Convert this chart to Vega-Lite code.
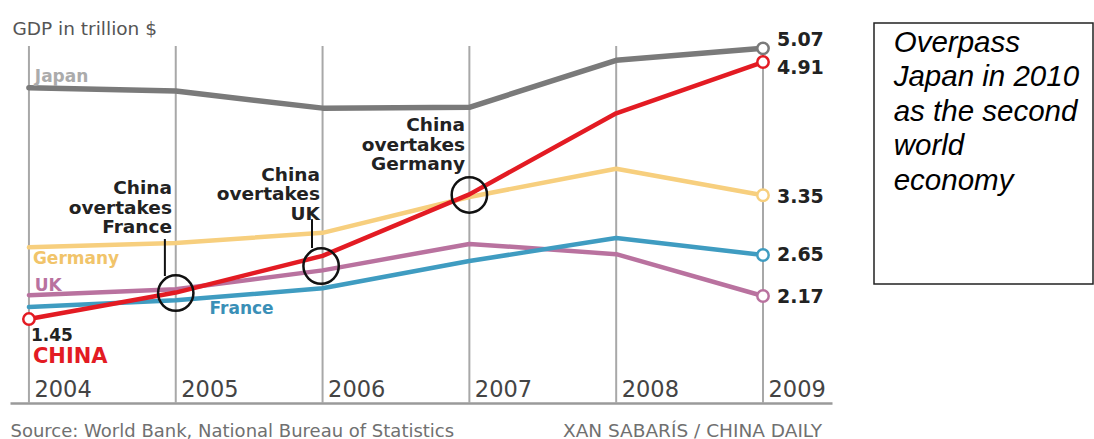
{
  "$schema": "https://vega.github.io/schema/vega-lite/v6.json",
  "padding": {"left": 10, "top": 19, "right": 0, "bottom": 0},
  "background": "white",
  "spacing": 41,
  "config": {"view": {"stroke": null}, "font": "DejaVu Sans"},
  "datasets": {
    "gdp": [
      {"country": "Japan", "year": 2004, "gdp": 4.61},
      {"country": "Japan", "year": 2005, "gdp": 4.57},
      {"country": "Japan", "year": 2006, "gdp": 4.37},
      {"country": "Japan", "year": 2007, "gdp": 4.38},
      {"country": "Japan", "year": 2008, "gdp": 4.93},
      {"country": "Japan", "year": 2009, "gdp": 5.07},
      {"country": "Germany", "year": 2004, "gdp": 2.74},
      {"country": "Germany", "year": 2005, "gdp": 2.79},
      {"country": "Germany", "year": 2006, "gdp": 2.91},
      {"country": "Germany", "year": 2007, "gdp": 3.33},
      {"country": "Germany", "year": 2008, "gdp": 3.66},
      {"country": "Germany", "year": 2009, "gdp": 3.35},
      {"country": "UK", "year": 2004, "gdp": 2.18},
      {"country": "UK", "year": 2005, "gdp": 2.25},
      {"country": "UK", "year": 2006, "gdp": 2.47},
      {"country": "UK", "year": 2007, "gdp": 2.78},
      {"country": "UK", "year": 2008, "gdp": 2.66},
      {"country": "UK", "year": 2009, "gdp": 2.17},
      {"country": "France", "year": 2004, "gdp": 2.04},
      {"country": "France", "year": 2005, "gdp": 2.12},
      {"country": "France", "year": 2006, "gdp": 2.26},
      {"country": "France", "year": 2007, "gdp": 2.58},
      {"country": "France", "year": 2008, "gdp": 2.85},
      {"country": "France", "year": 2009, "gdp": 2.65},
      {"country": "China", "year": 2004, "gdp": 1.9},
      {"country": "China", "year": 2005, "gdp": 2.21},
      {"country": "China", "year": 2006, "gdp": 2.64},
      {"country": "China", "year": 2007, "gdp": 3.36},
      {"country": "China", "year": 2008, "gdp": 4.31},
      {"country": "China", "year": 2009, "gdp": 4.91}
    ],
    "labels": [
      {"text": "Japan", "grp": "series", "year": 2004.04, "gdp": 4.676},
      {"text": "Germany", "grp": "series", "year": 2004.027, "gdp": 2.545},
      {"text": "UK", "grp": "series", "year": 2004.04, "gdp": 2.229},
      {"text": "France", "grp": "series", "year": 2005.23, "gdp": 1.959},
      {"text": "1.45", "grp": "series", "year": 2004.014, "gdp": 1.643},
      {"text": "CHINA", "grp": "series", "year": 2004.027, "gdp": 1.385},
      {"text": "5.07", "grp": "end", "year": 2009.095, "gdp": 5.097},
      {"text": "4.91", "grp": "end", "year": 2009.095, "gdp": 4.769},
      {"text": "3.35", "grp": "end", "year": 2009.095, "gdp": 3.259},
      {"text": "2.65", "grp": "end", "year": 2009.095, "gdp": 2.58},
      {"text": "2.17", "grp": "end", "year": 2009.095, "gdp": 2.088},
      {"text": "China\novertakes\nFrance", "grp": "note", "year": 2004.974, "gdp": 3.364},
      {"text": "China\novertakes\nUK", "grp": "note", "year": 2005.982, "gdp": 3.517},
      {"text": "China\novertakes\nGermany", "grp": "note", "year": 2006.97, "gdp": 4.102}
    ],
    "circles": [
      {"event": "France", "year": 2005.0, "gdp": 2.205},
      {"event": "UK", "year": 2005.99, "gdp": 2.521},
      {"event": "Germany", "year": 2007.0, "gdp": 3.353}
    ],
    "leaders": [
      {"event": "France", "year": 2004.926, "gdp": 2.837, "gdp2": 2.404},
      {"event": "UK", "year": 2005.928, "gdp": 3.07, "gdp2": 2.732}
    ]
  },
  "hconcat": [
    {
      "width": 822,
      "height": 380,
      "title": {"text": "XAN SABARÍS / CHINA DAILY", "orient": "bottom", "anchor": "end", "dx": -10, "offset": -18, "font": "DejaVu Sans", "fontSize": 18.5, "fontWeight": "normal", "color": "#707070"},
      "resolve": {"scale": {"color": "independent"}},
      "layer": [
        {
          "data": {"name": "gdp"},
          "transform": [{"filter": "datum.country === 'Japan'"}],
          "mark": {"type": "rule", "stroke": "#a8a8a8", "strokeWidth": 2},
          "encoding": {
            "x": {"field": "year", "type": "quantitative",
              "scale": {"domain": [2003.871, 2009.47], "nice": false, "zero": false},
              "axis": {"values": [2004, 2005, 2006, 2007, 2008, 2009], "format": "d",
                "title": "Source: World Bank, National Bureau of Statistics", "titleAnchor": "start", "titleAlign": "left", "titlePadding": 19,
                "titleFont": "DejaVu Sans", "titleFontSize": 18, "titleFontWeight": "normal", "titleColor": "#707070",
                "grid": false, "ticks": false, "tickSize": 0,
                "domain": true, "domainColor": "#9a9a9a", "domainWidth": 2.5,
                "labelAlign": "left", "labelBaseline": "alphabetic", "labelPadding": -7, "labelOffset": 5,
                "labelFontSize": 22.5, "labelColor": "#444444", "labelFont": "DejaVu Sans", "labelFlush": false, "labelOverlap": false}},
            "y": {"datum": 5.097, "type": "quantitative",
              "scale": {"domain": [0.917, 5.367], "nice": false, "zero": false},
              "axis": {"title": "GDP in trillion $", "titleAngle": 0, "titleAlign": "left", "titleBaseline": "alphabetic", "titleX": 2, "titleY": 11,
                "titleFont": "DejaVu Sans", "titleFontSize": 18.5, "titleFontWeight": "normal", "titleColor": "#555555",
                "labels": false, "ticks": false, "domain": false, "grid": false}},
            "y2": {"datum": 0.917}
          }
        },
        {
          "data": {"name": "gdp"},
          "transform": [{"filter": "datum.country !== 'China'"}],
          "mark": {"type": "line", "strokeCap": "round", "strokeJoin": "round"},
          "encoding": {
            "x": {"field": "year", "type": "quantitative"},
            "y": {"field": "gdp", "type": "quantitative"},
            "color": {"field": "country", "type": "nominal",
              "scale": {"domain": ["Japan", "Germany", "UK", "France", "China"], "range": ["#7a7a7a", "#f7cf7e", "#b9729f", "#3f9cc1", "#e31b23"]},
              "legend": null},
            "strokeWidth": {"condition": {"test": "datum.country === 'Japan'", "value": 5.5}, "value": 4.5}
          }
        },
        {
          "data": {"name": "gdp"},
          "transform": [{"filter": "datum.country === 'China'"}],
          "mark": {"type": "line", "strokeCap": "round", "strokeJoin": "round", "strokeWidth": 4.5},
          "encoding": {
            "x": {"field": "year", "type": "quantitative"},
            "y": {"field": "gdp", "type": "quantitative"},
            "color": {"field": "country", "type": "nominal",
              "scale": {"domain": ["Japan", "Germany", "UK", "France", "China"], "range": ["#7a7a7a", "#f7cf7e", "#b9729f", "#3f9cc1", "#e31b23"]},
              "legend": null}
          }
        },
        {
          "data": {"name": "gdp"},
          "transform": [{"filter": "datum.year == 2009 || (datum.country === 'China' && datum.year == 2004)"}],
          "mark": {"type": "point", "filled": false, "fill": "white", "fillOpacity": 1, "opacity": 1, "size": 130, "strokeWidth": 2.5},
          "encoding": {
            "x": {"field": "year", "type": "quantitative"},
            "y": {"field": "gdp", "type": "quantitative"},
            "color": {"field": "country", "type": "nominal",
              "scale": {"domain": ["Japan", "Germany", "UK", "France", "China"], "range": ["#7a7a7a", "#f7cf7e", "#b9729f", "#3f9cc1", "#e31b23"]},
              "legend": null}
          }
        },
        {
          "data": {"name": "circles"},
          "mark": {"type": "point", "filled": false, "size": 1250, "stroke": "#111111", "strokeWidth": 2.5, "opacity": 1},
          "encoding": {
            "x": {"field": "year", "type": "quantitative"},
            "y": {"field": "gdp", "type": "quantitative"}
          }
        },
        {
          "data": {"name": "leaders"},
          "mark": {"type": "rule", "stroke": "#111111", "strokeWidth": 2},
          "encoding": {
            "x": {"field": "year", "type": "quantitative"},
            "y": {"field": "gdp", "type": "quantitative"},
            "y2": {"field": "gdp2"}
          }
        },
        {
          "data": {"name": "labels"},
          "transform": [{"filter": "datum.grp === 'series'"}],
          "mark": {"type": "text", "align": "left", "baseline": "alphabetic", "font": "DejaVu Sans", "fontWeight": "bold"},
          "encoding": {
            "x": {"field": "year", "type": "quantitative"},
            "y": {"field": "gdp", "type": "quantitative"},
            "text": {"field": "text"},
            "color": {"field": "text", "type": "nominal",
              "scale": {"domain": ["Japan", "Germany", "UK", "France", "1.45", "CHINA"], "range": ["#ababab", "#f1c46a", "#b9729f", "#3a8fb7", "#222222", "#e31b23"]},
              "legend": null},
            "size": {"condition": {"test": "datum.text === 'CHINA'", "value": 21}, "value": 17}
          }
        },
        {
          "data": {"name": "labels"},
          "transform": [{"filter": "datum.grp === 'end'"}],
          "mark": {"type": "text", "align": "left", "baseline": "alphabetic", "font": "DejaVu Sans", "fontWeight": "bold", "fontSize": 19, "color": "#222222"},
          "encoding": {
            "x": {"field": "year", "type": "quantitative"},
            "y": {"field": "gdp", "type": "quantitative"},
            "text": {"field": "text"}
          }
        },
        {
          "data": {"name": "labels"},
          "transform": [{"filter": "datum.grp === 'note'"}],
          "mark": {"type": "text", "align": "right", "baseline": "alphabetic", "lineBreak": "\n", "lineHeight": 19.5, "font": "DejaVu Sans", "fontWeight": "bold", "fontSize": 18.5, "color": "#222222"},
          "encoding": {
            "x": {"field": "year", "type": "quantitative"},
            "y": {"field": "gdp", "type": "quantitative"},
            "text": {"field": "text"}
          }
        }
      ]
    },
    {
      "width": 219,
      "height": 261,
      "view": {"stroke": "#222222", "strokeWidth": 1.5},
      "data": {"values": [{"note": "Overpass\nJapan in 2010\nas the second\nworld\neconomy"}]},
      "mark": {"type": "text", "align": "left", "baseline": "alphabetic", "lineBreak": "\n", "lineHeight": 34.5, "font": "Liberation Sans", "fontStyle": "italic", "fontSize": 29.5, "color": "#000000"},
      "encoding": {
        "x": {"datum": 0.09, "type": "quantitative", "scale": {"domain": [0, 1], "nice": false}, "axis": null},
        "y": {"datum": 0.889, "type": "quantitative", "scale": {"domain": [0, 1], "nice": false}, "axis": null},
        "text": {"field": "note"}
      }
    }
  ]
}
